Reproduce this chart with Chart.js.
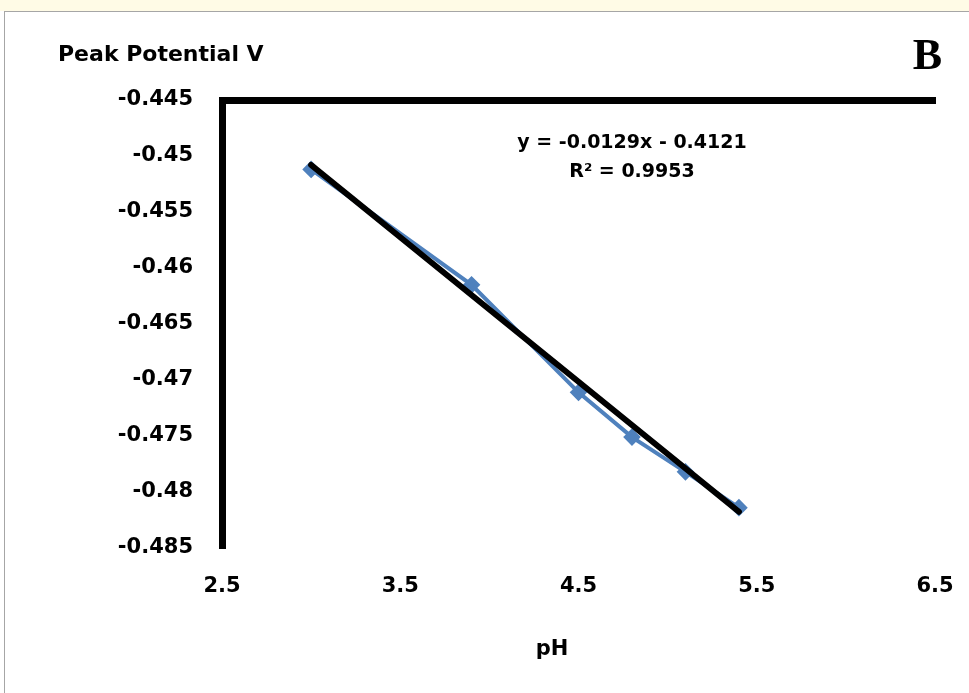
<!DOCTYPE html>
<html>
<head>
<meta charset="utf-8">
<script src="https://cdn.jsdelivr.net/npm/chart.js@4"></script>
<style>
  html, body { margin: 0; padding: 0; width: 969px; height: 693px; overflow: hidden; background: #ffffff; }
  #strip { position: absolute; left: 0; top: 0; width: 969px; height: 11px; background: #fffbe6; }
  #frame { position: absolute; left: 4px; top: 11px; width: 990px; height: 700px; border: 1px solid #a6a6a6; box-sizing: border-box; background: #ffffff; }
  #wrap { position: absolute; left: 0; top: 0; width: 969px; height: 693px; }
</style>
</head>
<body>
<div id="strip"></div>
<div id="frame"></div>
<div id="wrap"><canvas id="chart"></canvas></div>
<script>
// Peak potential against pH
const phValues = [3.0, 3.9, 4.5, 4.8, 5.1, 5.4];
const peakPotential = [-0.4512, -0.4615, -0.4711, -0.4751, -0.4782, -0.4814];

// Linear fit of the series
const fitSlope = -0.0129;
const fitIntercept = -0.4121;
const fitR2 = 0.9953;

// Axis ticks
const xTickValues = [2.5, 3.5, 4.5, 5.5, 6.5];
const xTickLabels = ['2.5', '3.5', '4.5', '5.5', '6.5'];
const yTickValues = [-0.445, -0.45, -0.455, -0.46, -0.465, -0.47, -0.475, -0.48, -0.485];
const yTickLabels = ['-0.445', '-0.45', '-0.455', '-0.46', '-0.465', '-0.47', '-0.475', '-0.48', '-0.485'];

const FONT = 'DejaVu Sans';

const seriesPoints = phValues.map((x, i) => ({ x: x, y: peakPotential[i] }));
const fitEnds = [phValues[0], phValues[phValues.length - 1]];
const fitPoints = fitEnds.map(x => ({ x: x, y: fitSlope * x + fitIntercept }));

const eqText = 'y = ' + fitSlope + 'x - ' + Math.abs(fitIntercept);
const r2Text = 'R\u00B2 = ' + fitR2;

// Axis headings, panel letter and fit equation
const textPlugin = {
  id: 'chartText',
  afterDraw(chart) {
    const ctx = chart.ctx;
    ctx.save();
    ctx.fillStyle = '#000';
    ctx.textBaseline = 'middle';

    ctx.font = 'bold 22px "' + FONT + '"';
    ctx.textAlign = 'left';
    ctx.fillText('Peak Potential V', 58, 55);

    ctx.font = 'bold 21px "' + FONT + '"';
    ctx.textAlign = 'center';
    ctx.fillText('pH', 552, 650);

    ctx.font = 'bold 44px "Liberation Serif"';
    ctx.textAlign = 'right';
    ctx.fillText('B', 942, 58);

    ctx.font = 'bold 19px "' + FONT + '"';
    ctx.textAlign = 'center';
    ctx.fillText(eqText, 632, 143);
    ctx.fillText(r2Text, 632, 172);
    ctx.restore();
  }
};

// Keep the plot box fixed: no extra room reserved for overhanging tick labels
const noLabelPadding = s => { s.paddingLeft = 0; s.paddingRight = 0; s.paddingTop = 0; s.paddingBottom = 0; };

new Chart(document.getElementById('chart'), {
  type: 'scatter',
  data: {
    datasets: [
      {
        label: 'Linear fit',
        data: fitPoints,
        showLine: true,
        borderColor: '#000000',
        borderWidth: 6,
        pointRadius: 0,
        borderCapStyle: 'round',
        order: 0
      },
      {
        label: 'Peak potential',
        data: seriesPoints,
        showLine: true,
        borderColor: '#4f81bd',
        borderWidth: 4,
        pointStyle: 'rectRot',
        pointRadius: 6,
        pointBackgroundColor: '#4f81bd',
        pointBorderColor: '#4f81bd',
        order: 1
      }
    ]
  },
  options: {
    responsive: true,
    maintainAspectRatio: false,
    animation: false,
    layout: { padding: { top: 100, right: 34, left: 0, bottom: 0 } },
    plugins: { legend: { display: false }, tooltip: { enabled: false } },
    scales: {
      x: {
        type: 'linear',
        position: 'bottom',
        min: 2.5,
        max: 6.5,
        afterBuildTicks: s => { s.ticks = xTickValues.map(v => ({ value: v })); },
        afterFit: s => { s.height = 145; noLabelPadding(s); },
        grid: { display: false, drawTicks: false },
        border: { display: false },
        ticks: {
          padding: 26,
          color: '#000',
          font: { family: FONT, size: 21, weight: 'bold' },
          callback: (v, i) => xTickLabels[i]
        }
      },
      xTop: {
        type: 'linear',
        position: 'top',
        display: true,
        min: 2.5,
        max: 6.5,
        afterFit: s => { s.height = 0; noLabelPadding(s); },
        grid: { display: false, drawTicks: false },
        border: { display: true, color: '#000', width: 7 },
        ticks: { display: false }
      },
      y: {
        type: 'linear',
        position: 'left',
        min: -0.485,
        max: -0.445,
        afterBuildTicks: s => { s.ticks = yTickValues.map(v => ({ value: v })); },
        afterFit: s => { s.width = 222; noLabelPadding(s); },
        grid: { display: false, drawTicks: false },
        border: { display: true, color: '#000', width: 7 },
        ticks: {
          padding: 29,
          color: '#000',
          font: { family: FONT, size: 21, weight: 'bold' },
          callback: (v, i) => yTickLabels[i]
        }
      }
    }
  },
  plugins: [textPlugin]
});
</script>
</body>
</html>
